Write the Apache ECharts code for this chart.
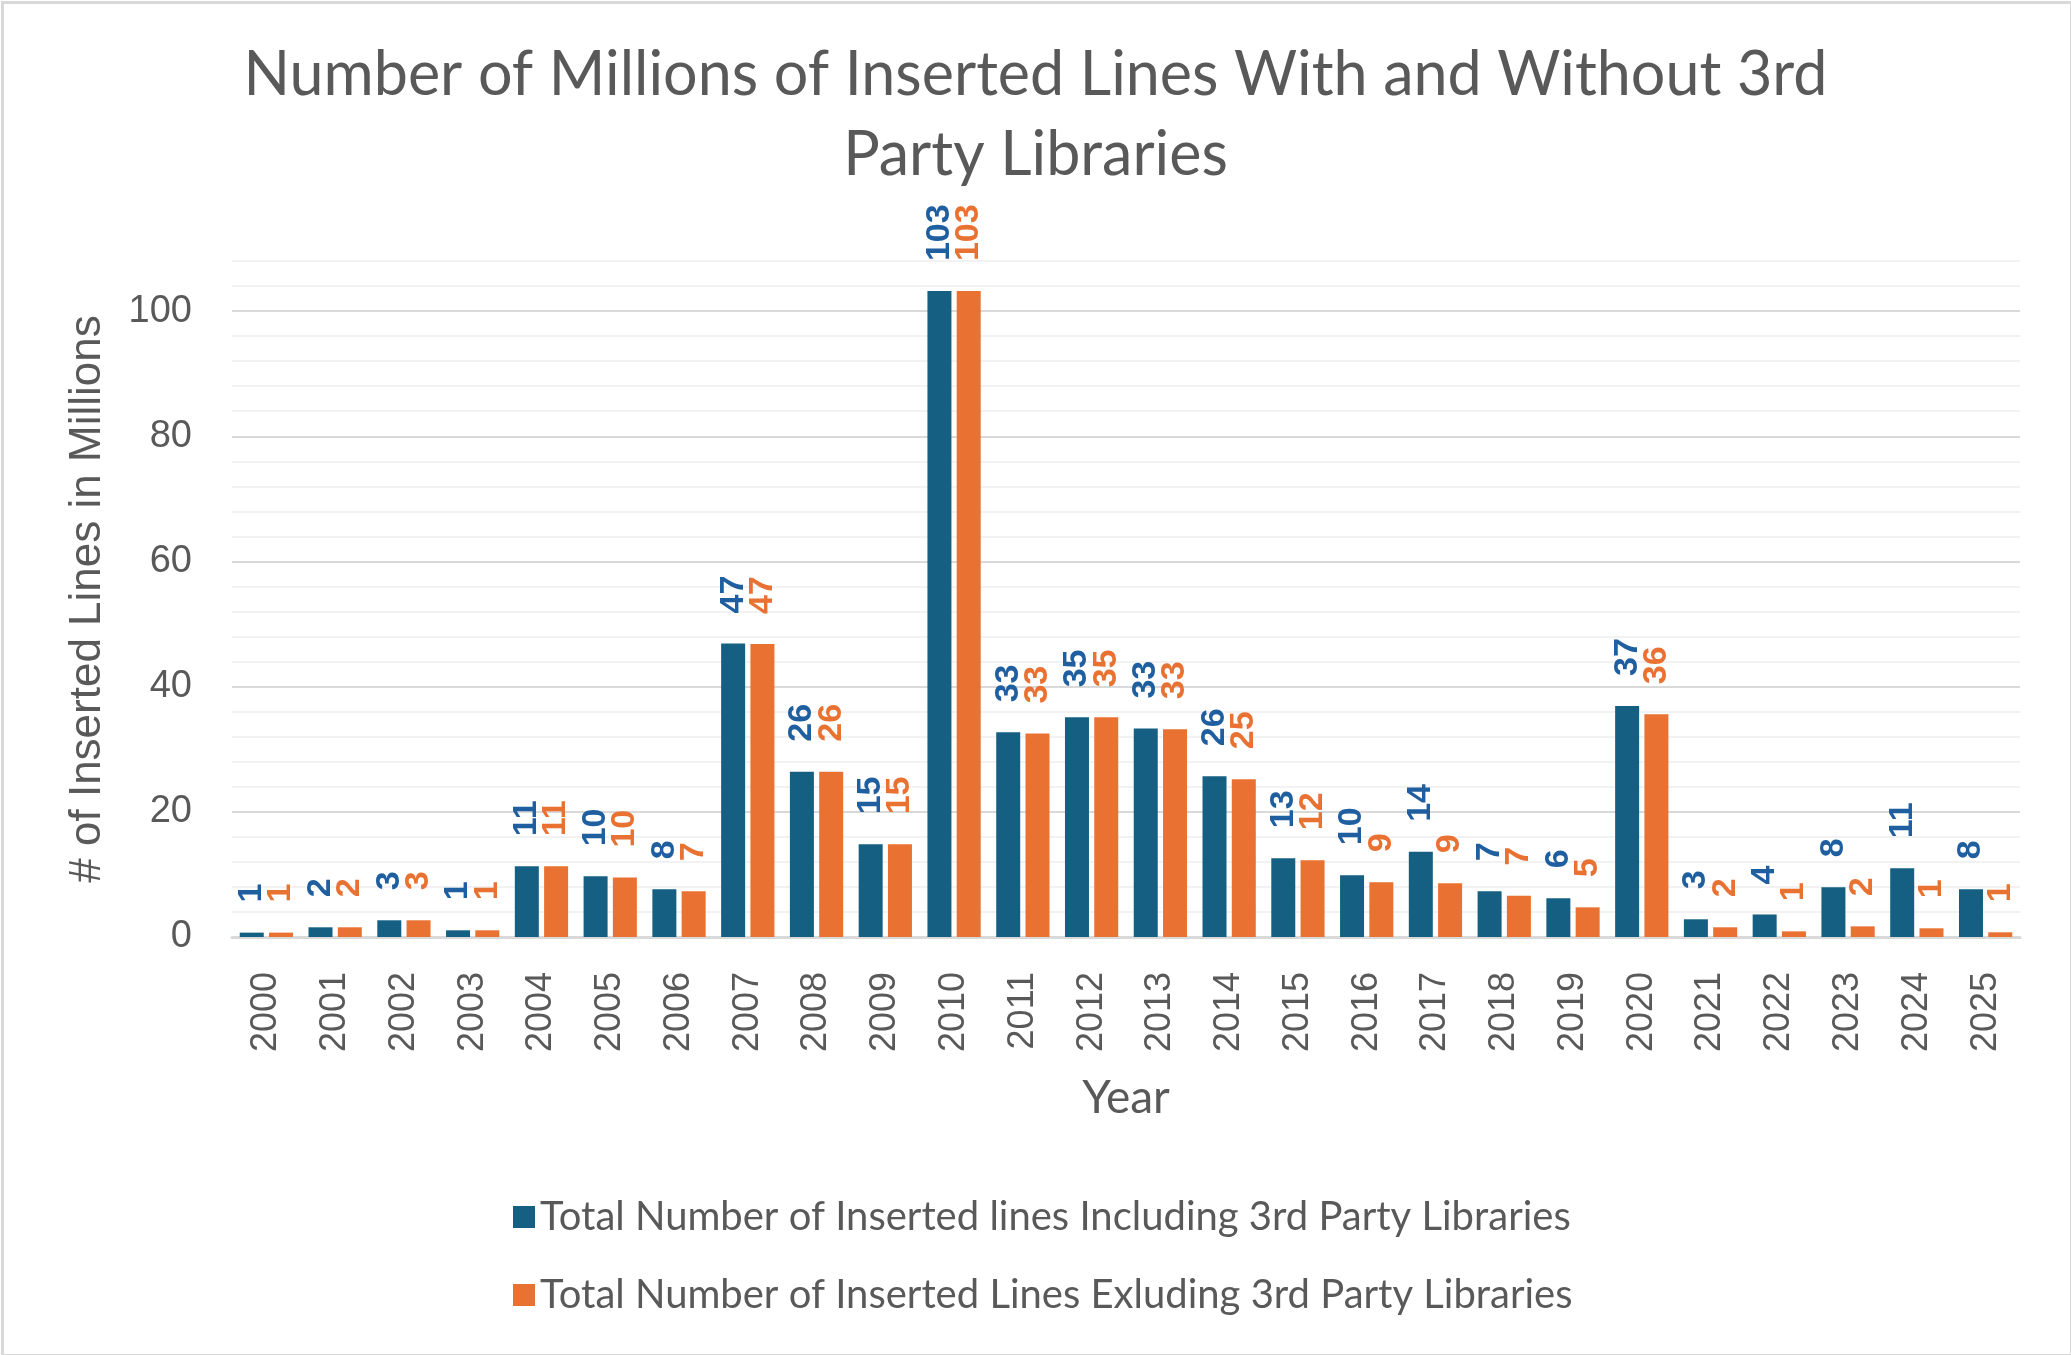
<!DOCTYPE html>
<html>
<head>
<meta charset="utf-8">
<script src="https://cdn.jsdelivr.net/npm/echarts@6/dist/echarts.min.js"></script>
<style>
  html, body { margin: 0; padding: 0; background: #fff; }
  #chart { width: 2071px; height: 1355px; }
</style>
</head>
<body>
<div id="chart"></div>
<script>
const years = ['2000','2001','2002','2003','2004','2005','2006','2007','2008','2009','2010','2011','2012','2013','2014','2015','2016','2017','2018','2019','2020','2021','2022','2023','2024','2025'];
const includingLibs = [0.7,1.55,2.67,1.07,11.3,9.7,7.62,46.9,26.4,14.8,103.2,32.7,35.1,33.3,25.7,12.58,9.86,13.6,7.3,6.18,36.9,2.83,3.6,7.94,10.98,7.62];
const excludingLibs = [0.7,1.55,2.67,1.07,11.3,9.5,7.3,46.8,26.4,14.8,103.2,32.5,35.1,33.2,25.2,12.26,8.74,8.58,6.6,4.74,35.6,1.55,0.9,1.7,1.39,0.75];
const seriesNames = ['Total Number of Inserted lines Including 3rd Party Libraries','Total Number of Inserted Lines Exluding 3rd Party Libraries'];
const yTickLabels = ['0','20','40','60','80','100'];

const chart = echarts.init(document.getElementById('chart'), null, { renderer: 'canvas' });

function labelCfg(color) {
  return {
    show: true,
    position: 'top',
    rotate: 90,
    align: 'left',
    verticalAlign: 'middle',
    distance: 30,
    color: color,
    fontFamily: 'Liberation Sans',
    fontWeight: 'bold',
    fontSize: 34,
    formatter: p => String(Math.round(p.value))
  };
}

const option = {
  backgroundColor: '#ffffff',
  animation: false,
  title: {
    text: 'Number of Millions of Inserted Lines With and Without 3rd\nParty Libraries',
    left: 'center',
    top: 30,
    textStyle: {
      fontFamily: 'Lato',
      fontWeight: 'normal',
      fontSize: 61,
      lineHeight: 80,
      color: '#595959'
    }
  },
  legend: {
    orient: 'vertical',
    left: 508,
    top: 1192,
    itemWidth: 22,
    itemHeight: 22,
    itemGap: 38,
    icon: 'rect',
    textStyle: { fontFamily: 'Lato', fontSize: 40, color: '#595959', lineHeight: 40 },
    data: seriesNames
  },
  grid: { left: 232, right: 51, top: 261, bottom: 418, containLabel: false },
  xAxis: {
    type: 'category',
    data: years,
    name: 'Year',
    nameLocation: 'middle',
    nameGap: 138,
    nameTextStyle: { fontFamily: 'Lato', fontSize: 46, color: '#595959' },
    axisLine: { show: true, lineStyle: { color: '#d9d9d9', width: 3 } },
    axisTick: { show: false },
    axisLabel: {
      rotate: 90,
      margin: 35,
      fontFamily: 'Liberation Sans',
      fontSize: 36,
      color: '#595959'
    }
  },
  yAxis: {
    type: 'value',
    min: 0,
    max: 108,
    interval: 4,
    name: '# of Inserted Lines in Millions',
    nameLocation: 'middle',
    nameGap: 122,
    nameRotate: 90,
    nameTextStyle: { fontFamily: 'Liberation Sans', fontSize: 44, color: '#595959' },
    axisLine: { show: false },
    axisTick: { show: false },
    axisLabel: {
      margin: 40,
      fontFamily: 'Liberation Sans',
      fontSize: 38,
      color: '#595959',
      formatter: v => (yTickLabels.indexOf(String(v)) >= 0 ? String(v) : '')
    },
    splitLine: {
      show: true,
      lineStyle: { color: ['#d9d9d9', '#f2f2f2', '#f2f2f2', '#f2f2f2', '#f2f2f2'], width: 2 }
    }
  },
  series: [
    {
      name: seriesNames[0],
      type: 'bar',
      data: includingLibs,
      barWidth: 24,
      barGap: '22%',
      itemStyle: { color: '#156082' },
      label: labelCfg('#1f5fa0')
    },
    {
      name: seriesNames[1],
      type: 'bar',
      data: excludingLibs,
      barWidth: 24,
      barGap: '22%',
      itemStyle: { color: '#e97132' },
      label: labelCfg('#e97132')
    }
  ],
  graphic: [{
    type: 'rect',
    left: 0, top: 0,
    shape: { x: 1, y: 1, width: 2069, height: 1353 },
    style: { fill: 'none', stroke: '#d9d9d9', lineWidth: 3 },
    silent: true
  }]
};
chart.setOption(option);
</script>
</body>
</html>
